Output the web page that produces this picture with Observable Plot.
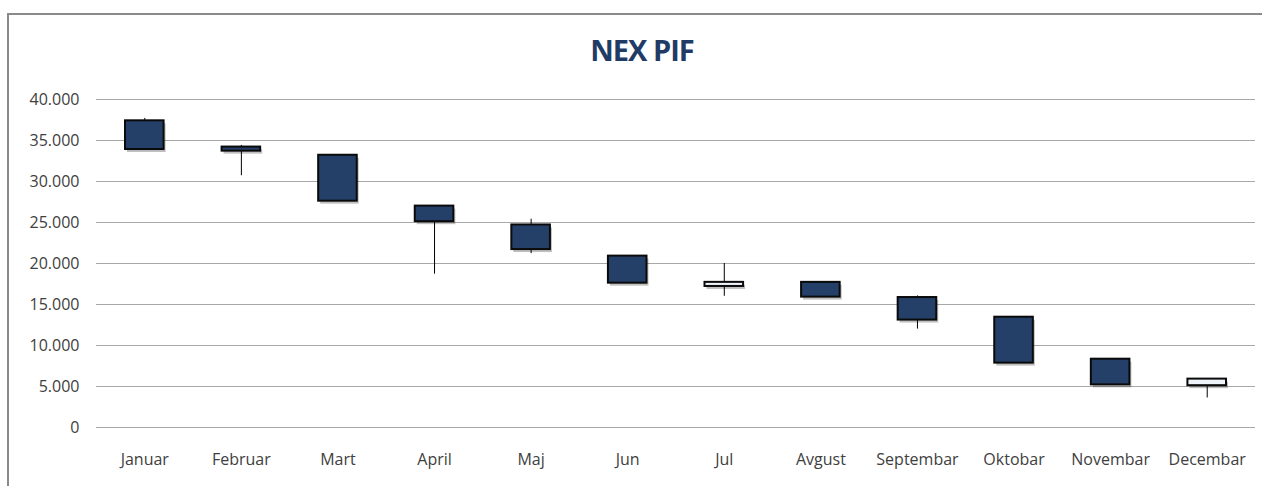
<!DOCTYPE html>
<html>
<head>
<meta charset="utf-8">
<script src="https://cdn.jsdelivr.net/npm/d3@7"></script>
<script src="https://cdn.jsdelivr.net/npm/@observablehq/plot@0.6"></script>
<style>
  html, body { margin: 0; padding: 0; background: #fff; width: 1262px; height: 486px; overflow: hidden; }
  #wrap { position: relative; width: 1262px; height: 486px; }
  #border { position: absolute; left: 7px; top: 13px; right: 0; bottom: 0; border-top: 2px solid #8a8a8a; border-left: 2px solid #8a8a8a; pointer-events: none; }
  #title { height: 80px; width: 1262px; position: relative; }
  #title span { position: absolute; left: 642px; top: 30px; transform: translateX(-50%); font-family: "Open Sans", sans-serif; font-weight: 700; font-size: 29px; letter-spacing: -1px; color: #1f3b66; white-space: nowrap; }
  #chart svg { display: block; }
</style>
</head>
<body>
<div id="wrap">
  <div id="title"><span>NEX PIF</span></div>
  <div id="chart"></div>
  <div id="border"></div>
</div>
<script>
const months = ["Januar","Februar","Mart","April","Maj","Jun","Jul","Avgust","Septembar","Oktobar","Novembar","Decembar"];
const openV  = [37400, 34200, 33200, 27000, 24700, 20900, 17200, 17700, 15850, 13450, 8330, 5100];
const highV  = [37700, 34400, 33200, 27000, 25400, 20900, 20000, 17700, 16050, 13450, 8330, 5900];
const lowV   = [33900, 30700, 27600, 18700, 21200, 17600, 16000, 15900, 12000, 7850, 5200, 3600];
const closeV = [33900, 33700, 27600, 25100, 21700, 17600, 17700, 15900, 13100, 7850, 5200, 5900];
const yTicks = [0, 5000, 10000, 15000, 20000, 25000, 30000, 35000, 40000];

const data = months.map((m, i) => ({month: m, open: openV[i], high: highV[i], low: lowV[i], close: closeV[i]}));
const fmt = d3.formatLocale({thousands: ".", grouping: [3], decimal: ","}).format(",d");
const font = '"Open Sans", sans-serif';

const chart = Plot.plot({
  width: 1262,
  height: 406,
  marginTop: 19,
  marginBottom: 59,
  marginLeft: 96,
  marginRight: 7,
  style: {fontFamily: font, fontSize: "16px", color: "#404040", background: "transparent"},
  x: {type: "band", domain: months, padding: 0, round: false, label: null},
  y: {domain: [0, 40000], label: null},
  marks: [
    Plot.gridY(yTicks, {stroke: "#a8a8a8", strokeOpacity: 1, strokeWidth: 1.2}),
    Plot.ruleX([0], {frameAnchor: "left", stroke: "#a8a8a8", strokeWidth: 1.2}),
    Plot.axisY({ticks: yTicks, tickFormat: fmt, tickSize: 0, tickPadding: 17, fontSize: 16, fill: "#404040"}),
    Plot.axisX({tickSize: 0, tickPadding: 26, fontSize: 16, fill: "#404040"}),
    Plot.ruleX(data, {x: "month", y1: "low", y2: "high", stroke: "#000", strokeWidth: 1}),
    Plot.barY(data, {x: "month", y1: "open", y2: "close", insetLeft: 29, insetRight: 29, fill: "#000", fillOpacity: 0.25, dx: 2, dy: 3}),
    Plot.barY(data, {x: "month", y1: "open", y2: "close", insetLeft: 29, insetRight: 29,
      fill: d => d.close > d.open ? "#eef3fa" : "#254068", stroke: "#0a0a0a", strokeWidth: 2})
  ]
});
document.getElementById("chart").appendChild(chart);
</script>
</body>
</html>
